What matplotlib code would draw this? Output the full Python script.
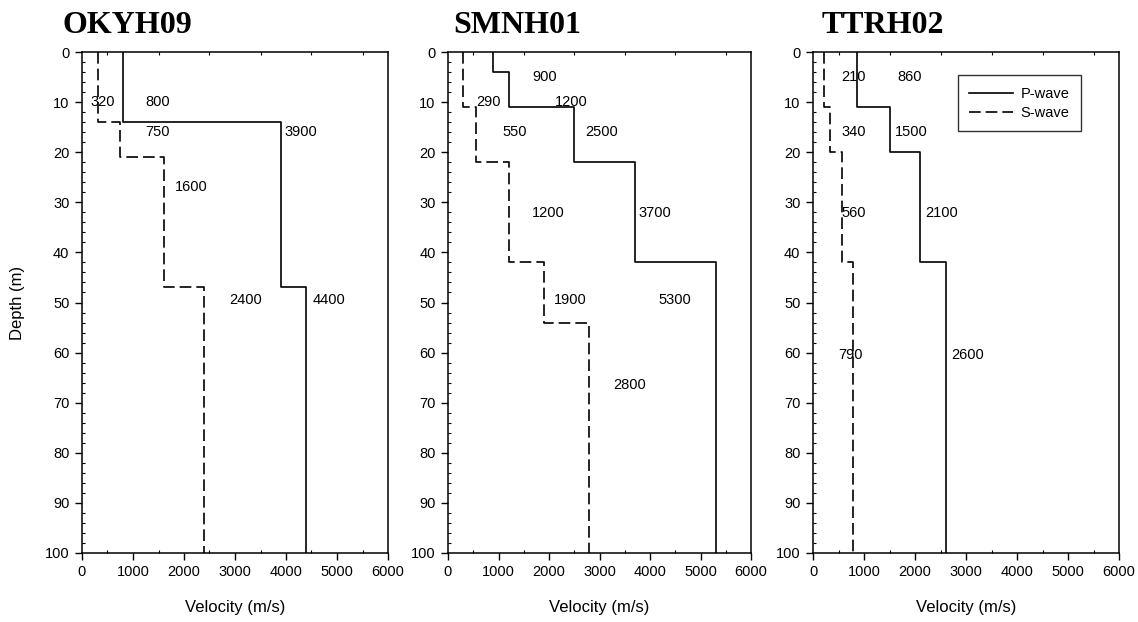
import numpy as np
import matplotlib
matplotlib.use('Agg')
import matplotlib.pyplot as plt
from matplotlib.ticker import MultipleLocator

plt.rcParams['font.family'] = ['Liberation Sans', 'DejaVu Sans']

# layer boundaries (m) and velocities (m/s) for each borehole
stations = ['OKYH09', 'SMNH01', 'TTRH02']

okyh_p_depth = [0, 14, 47, 100]
okyh_p_vel = [800, 3900, 4400]
okyh_s_depth = [0, 14, 21, 47, 100]
okyh_s_vel = [320, 750, 1600, 2400]

smnh_p_depth = [0, 4, 11, 22, 42, 100]
smnh_p_vel = [900, 1200, 2500, 3700, 5300]
smnh_s_depth = [0, 11, 22, 42, 54, 100]
smnh_s_vel = [290, 550, 1200, 1900, 2800]

ttrh_p_depth = [0, 11, 20, 42, 100]
ttrh_p_vel = [860, 1500, 2100, 2600]
ttrh_s_depth = [0, 11, 20, 42, 100]
ttrh_s_vel = [210, 340, 560, 790]

# where the velocity labels sit (vel, depth) - same order as the values
okyh_p_lab = [(1490, 10), (4300, 16), (4850, 49.5)]
okyh_s_lab = [(400, 10), (1490, 16), (2150, 27), (3200, 49.5)]
smnh_p_lab = [(1920, 5), (2450, 10), (3050, 16), (4100, 32.2), (4500, 49.5)]
smnh_s_lab = [(800, 10), (1330, 16), (1980, 32.2), (2420, 49.5), (3600, 66.5)]
ttrh_p_lab = [(1900, 5), (1930, 16), (2520, 32.2), (3040, 60.5)]
ttrh_s_lab = [(790, 5), (790, 16), (790, 32.2), (730, 60.5)]

profiles = [
    (okyh_p_depth, okyh_p_vel, okyh_s_depth, okyh_s_vel, okyh_p_lab, okyh_s_lab),
    (smnh_p_depth, smnh_p_vel, smnh_s_depth, smnh_s_vel, smnh_p_lab, smnh_s_lab),
    (ttrh_p_depth, ttrh_p_vel, ttrh_s_depth, ttrh_s_vel, ttrh_p_lab, ttrh_s_lab),
]


def step(depth, vel):
    # vertical steps: each layer drawn from its top to its bottom
    x = np.repeat(vel, 2)
    y = np.column_stack([depth[:-1], depth[1:]]).ravel()
    return x, y


fig = plt.figure(figsize=(11.38, 6.22), dpi=100)
W, H = 1138, 622
lefts = [82, 448, 813]
widths = [306, 303, 306]
title_x = [62, 453, 822]

for i, name in enumerate(stations):
    ax = fig.add_axes([lefts[i] / W, 1 - 553 / H, widths[i] / W, 501 / H])
    pd_, pv, sd, sv, plab, slab = profiles[i]

    x, y = step(pd_, pv)
    ax.plot(x, y, color='black', lw=1.2, label='P-wave')
    x, y = step(sd, sv)
    ax.plot(x, y, color='black', lw=1.2, dashes=(7, 3), label='S-wave')

    for v, (tx, ty) in zip(pv, plab):
        ax.text(tx, ty, str(v), ha='center', va='center', fontsize=10.5)
    for v, (tx, ty) in zip(sv, slab):
        ax.text(tx, ty, str(v), ha='center', va='center', fontsize=10.5)

    ax.set_xlim(0, 6000)
    ax.set_ylim(100, 0)
    ax.xaxis.set_major_locator(MultipleLocator(1000))
    ax.xaxis.set_minor_locator(MultipleLocator(500))
    ax.yaxis.set_major_locator(MultipleLocator(10))
    ax.yaxis.set_minor_locator(MultipleLocator(2))
    ax.tick_params(which='major', direction='out', length=5, width=1,
                   labelsize=10.5, pad=4)
    ax.tick_params(which='minor', direction='in', length=2.5, width=0.8,
                   top=True, right=False)
    for s in ax.spines.values():
        s.set_linewidth(1.1)

    ax.set_xlabel('Velocity (m/s)', fontsize=12, labelpad=15)
    if i == 0:
        ax.set_ylabel('Depth (m)', fontsize=12, labelpad=14)

    fig.text(title_x[i] / W, 1 - 33 / H, name, fontsize=23, fontweight='bold',
             family='Liberation Serif', ha='left', va='baseline')

    if i == 2:
        leg = ax.legend(loc='upper right', bbox_to_anchor=(0.876, 0.954),
                        fontsize=10.5, frameon=True, fancybox=False,
                        handlelength=3.0, borderpad=0.8, labelspacing=0.35,
                        handletextpad=0.5, borderaxespad=0)
        leg.get_frame().set_edgecolor('black')
        leg.get_frame().set_linewidth(1.0)

fig.savefig('out.png', dpi=100)
